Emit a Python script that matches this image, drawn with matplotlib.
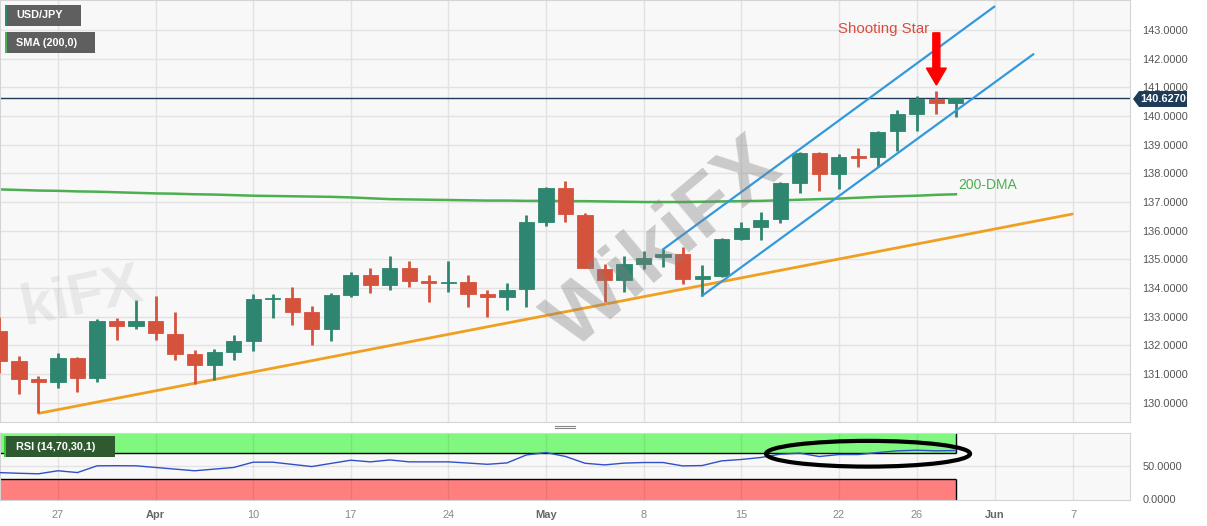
import matplotlib
matplotlib.use("Agg")
import matplotlib.pyplot as plt
from matplotlib.patches import Rectangle, Ellipse, FancyArrow, Polygon
from matplotlib.lines import Line2D

plt.rcParams['font.family'] = ['Liberation Sans', 'DejaVu Sans']

W, H = 1207, 526

# ---- data (trading-day index 0 = Mar 22) ----
opens = [132.51, 131.45, 130.83, 130.71, 131.57, 130.87, 132.86, 132.68, 132.86, 132.40,
         131.70, 131.32, 131.78, 132.16, 133.62, 133.65, 133.16, 132.57, 133.76, 134.45,
         134.11, 134.70, 134.23, 134.18, 134.21, 133.79, 133.68, 133.96, 136.31, 137.50,
         136.55, 134.66, 134.28, 134.84, 135.07, 135.19, 134.31, 134.42, 135.71, 136.13,
         136.41, 137.66, 138.71, 137.98, 138.59, 138.57, 139.48, 140.07, 140.59, 140.45]
closes = [131.47, 130.83, 130.71, 131.57, 130.87, 132.86, 132.68, 132.86, 132.42, 131.70,
          131.32, 131.78, 132.16, 133.61, 133.66, 133.16, 132.57, 133.76, 134.45, 134.11,
          134.70, 134.25, 134.18, 134.22, 133.79, 133.69, 133.93, 136.31, 137.50, 136.57,
          134.71, 134.28, 134.83, 135.06, 135.19, 134.31, 134.42, 135.71, 136.10, 136.37,
          137.66, 138.71, 137.98, 138.57, 138.55, 139.44, 140.07, 140.59, 140.45, 140.627]
highs = [133.00, 131.63, 130.93, 131.74, 131.60, 132.91, 132.95, 133.58, 133.72, 133.17,
         131.84, 131.87, 132.36, 133.79, 133.79, 134.04, 133.37, 133.83, 134.56, 134.70,
         135.12, 134.94, 134.45, 134.94, 134.45, 133.93, 134.16, 136.55, 137.53, 137.73,
         136.63, 134.83, 135.12, 135.29, 135.35, 135.42, 134.80, 135.74, 136.31, 136.65,
         137.70, 138.73, 138.73, 138.67, 138.88, 139.46, 140.21, 140.70, 140.87, 140.64]
lows = [131.03, 130.30, 129.63, 130.50, 130.38, 130.73, 132.19, 132.57, 132.19, 131.49,
        130.65, 130.79, 131.49, 131.81, 132.95, 132.71, 132.01, 132.15, 133.69, 133.83,
        133.93, 134.04, 133.51, 133.86, 133.34, 132.99, 133.23, 133.35, 136.16, 136.31,
        134.70, 133.50, 133.87, 134.65, 134.72, 134.13, 133.73, 134.40, 135.66, 135.68,
        136.27, 137.31, 137.38, 137.45, 138.22, 138.22, 138.78, 139.48, 140.07, 139.97]
sma200 = [137.44, 137.42, 137.40, 137.39, 137.37, 137.36, 137.34, 137.32, 137.30, 137.29,
          137.27, 137.26, 137.24, 137.22, 137.21, 137.20, 137.19, 137.18, 137.16, 137.13,
          137.10, 137.09, 137.08, 137.07, 137.06, 137.05, 137.05, 137.04, 137.04, 137.03,
          137.03, 137.02, 137.01, 137.00, 137.00, 137.00, 137.01, 137.02, 137.03, 137.04,
          137.06, 137.08, 137.10, 137.12, 137.15, 137.18, 137.20, 137.22, 137.25, 137.27]
rsi14 = [40.0, 39.0, 38.2, 42.8, 40.1, 50.3, 50.5, 50.3, 47.8, 45.3,
         42.8, 45.3, 47.8, 55.8, 55.8, 52.5, 49.2, 54.0, 58.8, 56.3,
         59.2, 56.3, 56.3, 56.3, 54.5, 52.6, 54.7, 66.8, 70.4, 64.5,
         54.2, 51.7, 54.4, 55.3, 55.3, 50.2, 50.7, 57.8, 59.9, 62.9,
         67.9, 69.5, 64.4, 67.4, 67.4, 70.4, 73.0, 74.0, 73.0, 73.5]

tick_pos = [3, 8, 13, 18, 23, 28, 33, 38, 43, 47, 51, 55]
tick_labels = ['27', 'Apr', '10', '17', '24', 'May', '8', '15', '22', '26', 'Jun', '7']
month_labels = {'Apr', 'May', 'Jun'}
price_ticks = list(range(130, 144))
rsi_ticks = [0, 50]
last_price = 140.627

support_line = ([2.02, 54.96], [129.63, 136.58])
channel_top = ([34.0, 50.96], [135.35, 143.81])
channel_bottom = ([36.0, 52.96], [133.73, 142.15])
star_idx = 48


def fx(px):
    return px / W


def fy(py):
    return 1 - py / H


fig = plt.figure(figsize=(W / 100, H / 100), dpi=100, facecolor='white')
ax = fig.add_axes([0, fy(422), fx(1130), 422 / H])
ax2 = fig.add_axes([0, fy(500), fx(1130), (500 - 432.7) / H], sharex=ax)

XL, XR = 0.03, 57.92
n = len(opens)
idx = list(range(n))
GREEN = '#2E8670'
RED = '#D5533D'
cols = [GREEN if c >= o else RED for o, c in zip(opens, closes)]

for a in (ax, ax2):
    a.set_facecolor('#F8F8F8')
    for s in a.spines.values():
        s.set_color('#D4D4D4')
    a.tick_params(length=0)

# main grid
for p in tick_pos:
    ax.axvline(p, color='#E2E2E2', lw=1, zorder=0.5)
for v in price_ticks:
    ax.axhline(v, color='#E2E2E2', lw=1, zorder=0.5)

# candles
bottoms = [min(o, c) for o, c in zip(opens, closes)]
heights = [max(abs(c - o), 0.04) for o, c in zip(opens, closes)]
ax.vlines(idx, lows, highs, colors=cols, lw=2, zorder=3)
ax.bar(idx, heights, bottom=bottoms, width=0.78, color=cols, edgecolor=cols,
       linewidth=0.6, zorder=4)

ax.plot(idx, sma200, color='#4CAF50', lw=1.8, zorder=2)
ax.plot(*support_line, color='#F0A020', lw=2, zorder=2.5, solid_capstyle='round')
ax.plot(*channel_top, color='#3399DD', lw=1.6, zorder=5)
ax.plot(*channel_bottom, color='#3399DD', lw=1.6, zorder=5)
ax.axhline(last_price, color='#1F3B5A', lw=1, zorder=2)

ax.text(42.95, 143.02, 'Shooting Star', color='#DD4B3E', fontsize=10.8,
        ha='left', va='center', zorder=6)
ax.text(49.1, 137.6, '200-DMA', color='#4CAF50', fontsize=10,
        ha='left', va='center', zorder=6)
ax.add_patch(FancyArrow(star_idx, 142.90, 0, -1.82, width=0.36, head_width=1.02,
                        head_length=0.59, length_includes_head=True,
                        color='#FF0000', zorder=7))

ax.set_xlim(XL, XR)
ax.set_ylim(129.327, 144.046)
ax.yaxis.tick_right()
ax.set_yticks(price_ticks)
ax.set_yticklabels([f'{v:.4f}' for v in price_ticks], fontsize=7.9, color='#555555')
ax.tick_params(axis='y', pad=9)
ax.tick_params(axis='x', labelbottom=False)

# RSI panel
ax2.add_patch(Rectangle((XL, 70), 49 - XL, 31, facecolor='#80F880', edgecolor='none', zorder=1))
ax2.add_patch(Rectangle((XL, -1.5), 49 - XL, 31.5, facecolor='#FF7F7F', edgecolor='none', zorder=1))
for p in tick_pos:
    ax2.axvline(p, color='k', alpha=0.08, lw=1, zorder=1.5)
ax2.axhline(50, color='k', alpha=0.08, lw=1, zorder=1.5)
ax2.hlines([70, 30], XL, 49, colors='k', lw=1, zorder=2)
ax2.vlines(49, 70, 101, colors='k', lw=1, zorder=2)
ax2.vlines(49, -1.5, 30, colors='k', lw=1, zorder=2)
ax2.plot(idx, rsi14, color='#3050C8', lw=1, zorder=3)
ax2.add_patch(Ellipse((44.5, 68.6), 10.45, 39, fill=False, edgecolor='k', lw=3,
                      zorder=6, clip_on=False))
ax2.set_ylim(-1.5, 100.5)
ax2.yaxis.tick_right()
ax2.set_yticks(rsi_ticks)
ax2.set_yticklabels([f'{v:.4f}' for v in rsi_ticks], fontsize=7.9, color='#555555')
ax2.tick_params(axis='y', pad=9)
ax2.set_xticks(tick_pos)
ax2.set_xticklabels(tick_labels, fontsize=7.9)
ax2.tick_params(axis='x', pad=7)
for t in ax2.get_xticklabels():
    if t.get_text() in month_labels:
        t.set_fontweight('bold')
        t.set_color('#666666')
    else:
        t.set_color('#888888')


# label boxes
def label_box(x0, y0, x1, y1, face, bar, text):
    fig.add_artist(Rectangle((fx(x0), fy(y1)), fx(x1 - x0), (y1 - y0) / H,
                             transform=fig.transFigure, facecolor=face,
                             edgecolor='none', zorder=10))
    fig.add_artist(Rectangle((fx(x0), fy(y1)), fx(2), (y1 - y0) / H,
                             transform=fig.transFigure, facecolor=bar,
                             edgecolor='none', zorder=11))
    fig.text(fx(16), fy((y0 + y1) / 2), text, color='white', fontsize=7.8,
             fontweight='bold', va='center', ha='left', zorder=12)


label_box(5, 5, 81, 26, '#5F5F5F', '#2E8670', 'USD/JPY')
label_box(5, 32, 95, 53, '#5F5F5F', '#4CAF50', 'SMA (200,0)')
label_box(4, 436, 115, 457, '#2F5A2F', '#33CC33', 'RSI (14,70,30,1)')

# price tag
tag = [(1133, 99), (1139, 91), (1187, 91), (1187, 107), (1139, 107)]
fig.add_artist(Polygon([(fx(x), fy(y)) for x, y in tag], closed=True,
                       transform=fig.transFigure, facecolor='#1F3B5A',
                       edgecolor='none', zorder=10))
fig.text(fx(1163), fy(99), f'{last_price:.4f}', color='white', fontsize=7.9,
         fontweight='bold', ha='center', va='center', zorder=11)

# panel drag handle
for yy in (425.7, 428.3):
    fig.add_artist(Line2D([fx(555), fx(575)], [fy(yy), fy(yy)], color='#888888',
                          lw=0.8, transform=fig.transFigure))

# watermarks
fig.text(fx(665), fy(245), 'WikiFX', rotation=40, rotation_mode='anchor',
         ha='center', va='center', fontsize=60, fontweight='bold',
         color='#808080', alpha=0.38, zorder=9)
fig.text(fx(82), fy(298), 'kiFX', rotation=12, rotation_mode='anchor',
         ha='center', va='center', fontsize=42, fontweight='bold',
         color='#B0B0B0', alpha=0.22, zorder=9)

fig.savefig('out.png', dpi=100, facecolor='white')
